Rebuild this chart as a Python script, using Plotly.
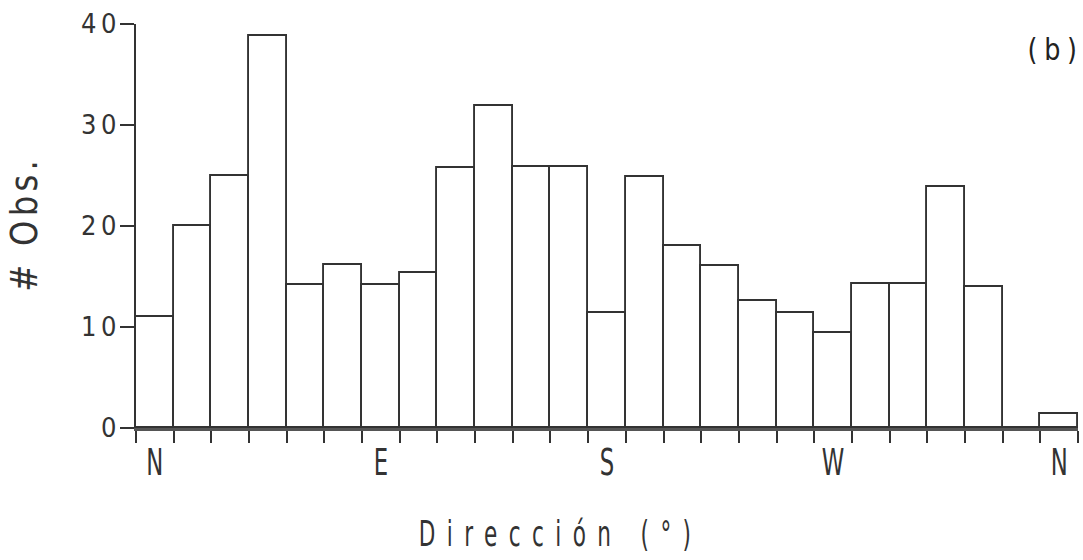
import plotly.graph_objects as go

# Direction bins (degrees, bin centres, 15-degree classes) and observation counts
directions = [0, 15, 30, 45, 60, 75, 90, 105, 120, 135, 150, 165, 180,
              195, 210, 225, 240, 255, 270, 285, 300, 315, 330, 345, 360]
counts = [11, 20, 25, 38.8, 14.2, 16.1, 14.2, 15.3, 25.7, 31.9, 25.8, 25.8, 11.4,
          24.9, 18.0, 16.0, 12.6, 11.4, 9.4, 14.3, 14.3, 23.9, 14.0, 0, 1.4]

compass_vals = [0, 90, 180, 270, 360]
compass_text = ["N", "E", "S", "W", "N"]
y_ticks = [0, 10, 20, 30, 40]

INK = "#333333"
FONT = "DejaVu Sans, sans-serif"
BIN = 15

fig = go.Figure(
    go.Bar(
        x=directions,
        y=counts,
        width=BIN,
        marker=dict(color="white", line=dict(color=INK, width=1.9)),
        hoverinfo="skip",
    )
)

fig.update_layout(
    width=1083,
    height=560,
    margin=dict(l=136, r=5, t=24, b=132),
    paper_bgcolor="white",
    plot_bgcolor="white",
    showlegend=False,
    font=dict(family=FONT, color=INK),
    bargap=0,
)

fig.update_xaxes(
    range=[directions[0] - BIN / 2, directions[-1] + BIN / 2],
    tickmode="array",
    tickvals=compass_vals,
    ticktext=compass_text,
    ticks="",
    ticklabelstandoff=-2,
    tickfont=dict(size=38, family=FONT, color=INK),
    minor=dict(tick0=directions[0] - BIN / 2, dtick=BIN, ticks="outside",
               ticklen=12, tickwidth=1.8, tickcolor=INK, showgrid=False),
    showline=True,
    linecolor="#555555",
    linewidth=3,
    showgrid=False,
    zeroline=False,
)

fig.update_yaxes(
    range=[0, 40],
    tickmode="array",
    tickvals=y_ticks,
    ticks="outside",
    ticklen=14,
    tickwidth=1.8,
    tickcolor=INK,
    ticklabelstandoff=-2,
    tickfont=dict(size=27, family=FONT, color=INK),
    showline=True,
    linecolor=INK,
    linewidth=2.2,
    showgrid=False,
    zeroline=False,
    title=dict(text="# Obs.", font=dict(size=38, family=FONT, color=INK),
               standoff=33),
)

# x-axis title, centred under the lettering of the compass labels
fig.add_annotation(
    text="Dirección (°)", xref="paper", yref="paper", x=0.445, y=-0.262,
    xanchor="center", yanchor="middle", showarrow=False,
    font=dict(size=36, family=FONT, color=INK),
)

fig.add_annotation(
    text="(b)", xref="paper", yref="paper", x=1.0, y=1.0,
    xanchor="right", yanchor="top", yshift=-6, xshift=-3, showarrow=False,
    font=dict(size=30, family=FONT, color="#222222"),
)

# Narrow, letter-spaced lettering: squeeze each text horizontally about its
# anchor point and widen the gaps between characters.
lettering = """
(function () {
  var rules = [
    ['.xtick text', 0.60, 0],
    ['.ytick text', 0.90, 5],
    ['.ytitle', 0.85, 5]
  ];
  var notes = {'Dirección (°)': [0.60, 19], '(b)': [0.85, 8]};
  function squeeze(t, sx, ls) {
    var x = parseFloat(t.getAttribute('x')) || 0;
    var y = parseFloat(t.getAttribute('y')) || 0;
    var anchor = t.getAttribute('text-anchor') || 'start';
    var shift = anchor === 'middle' ? ls / 2 : (anchor === 'end' ? ls : 0);
    t.style.letterSpacing = ls + 'px';
    var tr = t.getAttribute('transform') || '';
    t.setAttribute('transform', tr + ' translate(' + x + ',' + y + ') scale(' + sx +
                   ',1) translate(' + (shift - x) + ',' + (-y) + ')');
  }
  rules.forEach(function (r) {
    document.querySelectorAll('.main-svg ' + r[0]).forEach(function (t) {
      squeeze(t, r[1], r[2]);
    });
  });
  document.querySelectorAll('.main-svg .annotation-text').forEach(function (t) {
    var p = notes[t.textContent];
    if (p) { squeeze(t, p[0], p[1]); }
  });
})();
"""

fig.write_html("out.html", post_script=lettering)
